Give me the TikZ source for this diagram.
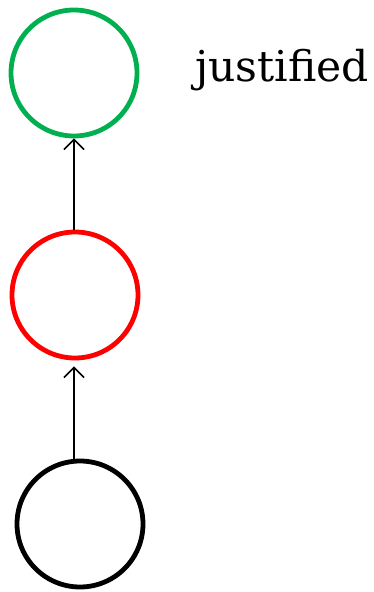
\documentclass[tikz,border=0pt]{standalone}
\usepackage{fontspec}
\setmainfont{DejaVu Serif}
\usepackage{tikz}
\usetikzlibrary{positioning, arrows.meta}

\begin{document}
\begin{tikzpicture}[x=1pt,y=-1pt,
   ring/.style={draw=#1,circle,line width=4.8pt,minimum size=126pt,inner sep=0pt},
   link/.style={line width=1.6pt,-{Straight Barb[length=10pt,width=20pt,line width=1.6pt]}}]
\useasboundingbox (0,0) rectangle (374,592);
\definecolor{okgreen}{RGB}{0,176,80}
\node[ring=okgreen] (justnode) at (74,73) {};
\node[ring=red] (midnode) at (75,295) {};
\node[ring=black] (basenode) at (80,524) {};
\node[anchor=base west,inner sep=0pt,font=\fontsize{42.5}{48}\selectfont] (justlabel) at (195,81) {justified};
\draw[link] (midnode.north -| justnode.south) -- (justnode.south);
\draw[link] (basenode.north -| justnode.south) -- ([yshift=-6pt]midnode.south -| justnode.south);
\end{tikzpicture}
\end{document}
